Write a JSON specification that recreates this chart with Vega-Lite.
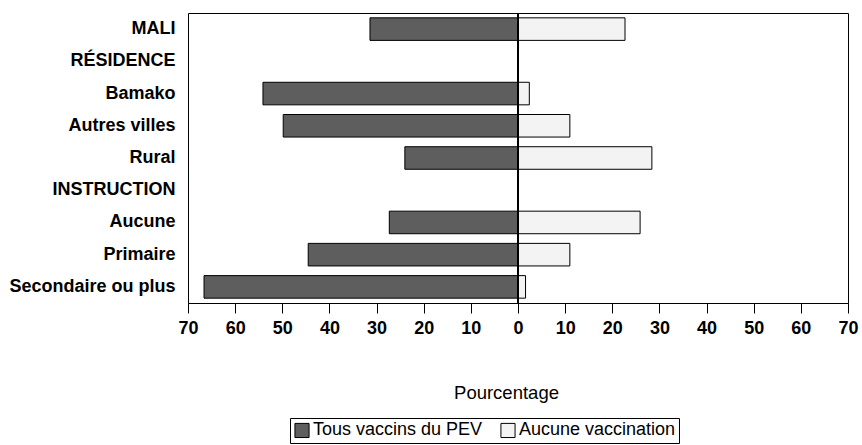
{
  "$schema": "https://vega.github.io/schema/vega-lite/v6.json",
  "width": 660,
  "height": 290,
  "autosize": {"type": "none"},
  "padding": {"left": 188, "top": 13, "right": 14, "bottom": 142},
  "config": {
    "view": {"stroke": "black", "strokeWidth": 1},
    "font": "Liberation Sans"
  },
  "data": {
    "values": [
      {"categorie": "MALI", "serie": "Tous vaccins du PEV", "valeur": -31.4},
      {"categorie": "MALI", "serie": "Aucune vaccination", "valeur": 22.7},
      {"categorie": "Bamako", "serie": "Tous vaccins du PEV", "valeur": -54.1},
      {"categorie": "Bamako", "serie": "Aucune vaccination", "valeur": 2.4},
      {"categorie": "Autres villes", "serie": "Tous vaccins du PEV", "valeur": -49.8},
      {"categorie": "Autres villes", "serie": "Aucune vaccination", "valeur": 11.0},
      {"categorie": "Rural", "serie": "Tous vaccins du PEV", "valeur": -24.0},
      {"categorie": "Rural", "serie": "Aucune vaccination", "valeur": 28.4},
      {"categorie": "Aucune", "serie": "Tous vaccins du PEV", "valeur": -27.3},
      {"categorie": "Aucune", "serie": "Aucune vaccination", "valeur": 25.9},
      {"categorie": "Primaire", "serie": "Tous vaccins du PEV", "valeur": -44.5},
      {"categorie": "Primaire", "serie": "Aucune vaccination", "valeur": 11.0},
      {"categorie": "Secondaire ou plus", "serie": "Tous vaccins du PEV", "valeur": -66.6},
      {"categorie": "Secondaire ou plus", "serie": "Aucune vaccination", "valeur": 1.6}
    ]
  },
  "layer": [
    {
      "mark": {"type": "bar", "stroke": "black", "strokeWidth": 1},
      "encoding": {
        "y": {
          "field": "categorie",
          "type": "nominal",
          "scale": {
            "domain": ["MALI", "RÉSIDENCE", "Bamako", "Autres villes", "Rural", "INSTRUCTION", "Aucune", "Primaire", "Secondaire ou plus"],
            "paddingInner": 0.3,
            "paddingOuter": 0.15
          },
          "axis": {
            "title": null,
            "domain": false,
            "ticks": false,
            "labelPadding": 13,
            "labelFontSize": 18,
            "labelFontWeight": "bold",
            "labelColor": "black",
            "labelLimit": 300
          }
        },
        "x": {
          "field": "valeur",
          "type": "quantitative",
          "scale": {"domain": [-70, 70], "nice": false},
          "axis": {
            "title": "Pourcentage",
            "values": [-70, -60, -50, -40, -30, -20, -10, 0, 10, 20, 30, 40, 50, 60, 70],
            "labelExpr": "abs(datum.value)",
            "grid": false,
            "tickSize": 10,
            "tickColor": "black",
            "domainColor": "black",
            "labelPadding": 6,
            "labelFontSize": 18,
            "labelFontWeight": "bold",
            "labelColor": "black",
            "labelFlush": false,
            "labelOverlap": false,
            "titlePadding": 46,
            "titleX": 318,
            "titleAlign": "center",
            "titleFontSize": 18.5,
            "titleFontWeight": "normal",
            "titleColor": "black"
          }
        },
        "color": {
          "field": "serie",
          "type": "nominal",
          "scale": {
            "domain": ["Tous vaccins du PEV", "Aucune vaccination"],
            "range": ["#5e5e5e", "#f3f3f3"]
          },
          "legend": {
            "title": null,
            "orient": "none",
            "legendX": 102,
            "legendY": 405,
            "direction": "horizontal",
            "strokeColor": "black",
            "padding": 3,
            "labelFontSize": 18,
            "labelColor": "black",
            "labelLimit": 400,
            "symbolType": "square",
            "symbolSize": 200,
            "symbolStrokeColor": "black",
            "symbolStrokeWidth": 1,
            "symbolOpacity": 1,
            "columnPadding": 15,
            "labelOffset": 2
          }
        }
      }
    },
    {
      "mark": {"type": "rule", "color": "black", "strokeWidth": 1.2},
      "encoding": {"x": {"datum": 0}}
    }
  ]
}
